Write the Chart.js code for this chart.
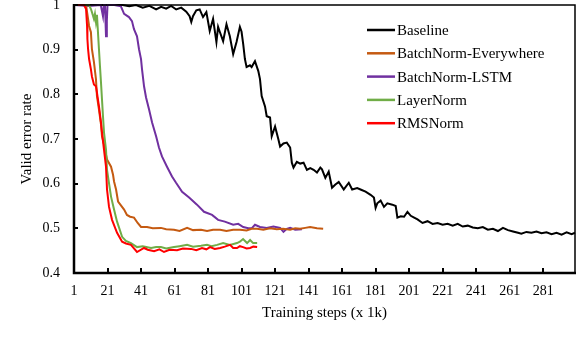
<!DOCTYPE html>
<html>
<head>
<meta charset="utf-8">
<script src="https://cdn.jsdelivr.net/npm/chart.js@4/dist/chart.umd.min.js"></script>
<style>
html,body{margin:0;padding:0;background:#fff;}
#wrap{width:576px;height:356px;}
</style>
</head>
<body>
<div id="wrap"><canvas id="c" width="576" height="356"></canvas></div>
<script>
// ---- data ----
const seriesNames = ["Baseline", "BatchNorm-Everywhere", "BatchNorm-LSTM", "LayerNorm", "RMSNorm"];
const seriesColors = ["#000000", "#C55A11", "#7030A0", "#70AD47", "#FF0000"];
const xTickValues = [1, 21, 41, 61, 81, 101, 121, 141, 161, 181, 201, 221, 241, 261, 281];
const yTickValues = [0.4, 0.5, 0.6, 0.7, 0.8, 0.9, 1.0];
const xTitle = "Training steps (x 1k)";
const yTitle = "Valid error rate";

const baselineSteps = [1,10,20,30,34,38,42,46,50,53,56,59,62,65,68,70,71,72,74,76,78,80,82,84,86,87,88,90,92,94,96,98,100,101,102,103,104,106,107,109,111,112,113,115,116,118,119,121,123,124,126,128,130,131,132,134,136,138,140,142,144,146,148,149,151,153,155,157,159,162,165,167,170,172,175,178,180,181,182,184,186,188,191,193,194,196,198,200,202,204,206,209,212,215,218,221,224,227,230,233,236,239,242,245,248,251,254,257,260,263,266,268,271,274,277,280,283,286,289,292,295,298,300];
const baselineErr = [1.0,1.0,1.0,1.0,0.997,1.0,0.994,0.998,0.99,0.996,0.992,0.998,0.99,0.994,0.985,0.975,0.962,0.975,0.988,0.99,0.973,0.984,0.942,0.969,0.917,0.951,0.94,0.919,0.957,0.93,0.89,0.917,0.951,0.94,0.912,0.879,0.861,0.865,0.861,0.874,0.852,0.834,0.796,0.773,0.751,0.748,0.706,0.728,0.699,0.683,0.69,0.692,0.681,0.647,0.636,0.649,0.645,0.647,0.631,0.635,0.631,0.625,0.636,0.632,0.613,0.627,0.591,0.598,0.604,0.587,0.602,0.587,0.59,0.587,0.582,0.575,0.569,0.546,0.556,0.562,0.548,0.556,0.553,0.55,0.524,0.527,0.526,0.537,0.528,0.524,0.52,0.512,0.516,0.51,0.512,0.508,0.51,0.506,0.51,0.504,0.506,0.502,0.5,0.503,0.497,0.499,0.494,0.501,0.496,0.493,0.49,0.488,0.492,0.49,0.493,0.489,0.491,0.487,0.49,0.486,0.491,0.487,0.49];

const bnEverySteps = [1,5,8.2,8.8,10,11.1,11.7,12.9,14.1,14.7,15.9,17.1,17.7,18.9,20.1,20.7,23.1,24.3,24.9,26.1,27.3,30.9,32.6,34.5,36.8,39,41,44.6,48,52.9,56,60.7,64,68.5,72,76.8,80.4,84,88.2,92,96,100.1,104,107,110.3,114,118,122,125.8,130,133,135.9,139,141.9,146,149.7];
const bnEveryErr = [1.0,1.0,1.0,0.984,0.953,0.939,0.901,0.872,0.834,0.796,0.766,0.733,0.706,0.688,0.665,0.654,0.638,0.62,0.605,0.587,0.56,0.542,0.53,0.526,0.524,0.512,0.503,0.503,0.5,0.501,0.498,0.497,0.494,0.501,0.496,0.497,0.494,0.497,0.497,0.494,0.497,0.497,0.495,0.499,0.499,0.497,0.5,0.498,0.499,0.497,0.5,0.499,0.501,0.503,0.5,0.499];

const bnLstmSteps = [1,10,17,18.3,18.8,19.5,20.1,20.6,21,25,29,30.9,33.8,35.6,36.8,38.6,39.8,41,41.6,42.8,44,45.8,47.6,50,51.7,53.5,56.5,59.5,61.9,65.5,69.7,74.4,78.6,83.4,87,91,96,99,102,105,107.3,109,112,116,120,124,126,128,130,133,137];
const bnLstmErr = [1.0,0.998,1.0,0.975,1.0,1.0,0.93,0.965,1.0,1.0,0.997,0.98,0.973,0.964,0.946,0.93,0.901,0.879,0.856,0.818,0.793,0.766,0.737,0.706,0.681,0.661,0.638,0.616,0.602,0.582,0.569,0.553,0.537,0.53,0.519,0.515,0.508,0.51,0.503,0.5,0.501,0.508,0.503,0.501,0.504,0.501,0.492,0.499,0.501,0.497,0.498];

const layerNormSteps = [1,5,10,11.1,11.7,12.9,13.5,14.1,14.7,15.3,15.9,16.5,17.1,17.7,18.3,18.9,20.1,20.7,23.1,24.9,26.7,29.7,32,35,38.6,42,47,50,52.9,56,60.7,64,68.5,72,76.8,80.4,83,86.4,90,94,98.3,100,101.9,104.3,106.1,107.9,110.3];
const layerNormErr = [1.0,1.0,1.0,0.991,0.984,0.969,0.98,0.962,0.978,0.939,0.901,0.863,0.827,0.789,0.751,0.715,0.676,0.631,0.571,0.542,0.515,0.481,0.472,0.467,0.458,0.46,0.456,0.458,0.458,0.455,0.458,0.46,0.463,0.459,0.461,0.463,0.46,0.463,0.467,0.463,0.467,0.47,0.476,0.467,0.474,0.467,0.467];

const rmsNormSteps = [1,5,7,8.2,8.8,9,9.4,10,11.1,11.7,12.9,14.1,14.7,15.9,17.1,17.7,18.9,20.1,20.7,21.9,23.7,26.7,29.7,32,35,38.6,42.8,45,48.8,52,54.7,58,62.5,66,70.9,74,77.4,80,82.2,85,88.2,91,94.1,96,98.3,100,101.9,104,106.1,108,110.3];
const rmsNormErr = [1.0,1.0,1.0,0.991,0.953,0.924,0.901,0.879,0.856,0.84,0.822,0.818,0.804,0.773,0.737,0.715,0.676,0.638,0.587,0.548,0.519,0.49,0.47,0.466,0.463,0.447,0.456,0.452,0.449,0.453,0.447,0.452,0.451,0.455,0.454,0.451,0.456,0.453,0.458,0.454,0.456,0.459,0.463,0.456,0.456,0.46,0.458,0.455,0.456,0.459,0.458];

const stepLists = [baselineSteps, bnEverySteps, bnLstmSteps, layerNormSteps, rmsNormSteps];
const errLists = [baselineErr, bnEveryErr, bnLstmErr, layerNormErr, rmsNormErr];
const drawOrder = [4, 2, 3, 1, 0];

const FONT = "'Liberation Serif', 'Times New Roman', serif";

const datasets = seriesNames.map((name, i) => ({
  label: name,
  data: stepLists[i].map((s, j) => ({x: s, y: errLists[i][j]})),
  borderColor: seriesColors[i],
  backgroundColor: seriesColors[i],
  borderWidth: 2,
  pointRadius: 0,
  tension: 0,
  fill: false,
  clip: 4,
  order: drawOrder[i]
}));

const framePlugin = {
  id: 'frame',
  afterDatasetsDraw(chart) {
    const {ctx, chartArea: a, scales} = chart;
    ctx.save();
    ctx.strokeStyle = '#000';
    ctx.lineWidth = 1.5;
    ctx.beginPath();
    ctx.moveTo(a.left, a.top); ctx.lineTo(a.right, a.top); ctx.lineTo(a.right, a.bottom);
    ctx.stroke();
    ctx.lineWidth = 2.5;
    ctx.beginPath();
    ctx.moveTo(a.left, a.top - 1); ctx.lineTo(a.left, a.bottom); ctx.lineTo(a.right + 1, a.bottom);
    ctx.stroke();
    // inward tick marks
    ctx.lineWidth = 2;
    ctx.beginPath();
    scales.x.ticks.forEach(t => {
      const px = Math.round(scales.x.getPixelForValue(t.value));
      ctx.moveTo(px, a.bottom); ctx.lineTo(px, a.bottom - 5);
    });
    scales.y.ticks.forEach(t => {
      const py = Math.round(scales.y.getPixelForValue(t.value));
      ctx.moveTo(a.left, py); ctx.lineTo(a.left + 4, py);
    });
    ctx.stroke();
    // legend
    const lx0 = 367, lx1 = 395, ly0 = 30, dy = 23.3;
    ctx.font = "15px " + FONT;
    ctx.textBaseline = 'middle';
    ctx.textAlign = 'left';
    chart.data.datasets.forEach((ds, i) => {
      const y = ly0 + i * dy;
      ctx.strokeStyle = ds.borderColor;
      ctx.lineWidth = 2.5;
      ctx.beginPath(); ctx.moveTo(lx0, y); ctx.lineTo(lx1, y); ctx.stroke();
      ctx.fillStyle = '#000';
      ctx.fillText(ds.label, lx1 + 2, y + 1);
    });
    ctx.restore();
  }
};

new Chart(document.getElementById('c'), {
  type: 'line',
  data: {datasets},
  options: {
    responsive: false,
    animation: false,
    devicePixelRatio: 1,
    layout: {padding: {left: 0, top: 5, right: 1, bottom: 0}},
    plugins: {legend: {display: false}, tooltip: {enabled: false}},
    scales: {
      x: {
        type: 'linear',
        min: 1, max: 300,
        afterFit(s) { s.height = 83; s.paddingLeft = 0; s.paddingRight = 0; s.paddingTop = 0; s.paddingBottom = 0; },
        afterBuildTicks(s) { s.ticks = xTickValues.map(v => ({value: v})); },
        grid: {display: false, drawTicks: false},
        border: {display: false},
        ticks: {color: '#000', font: {family: FONT, size: 14}, padding: 10, maxRotation: 0, autoSkip: false,
                callback: v => String(v)},
        title: {display: true, text: xTitle, color: '#000', font: {family: FONT, size: 15}, padding: {top: 0, bottom: 34}}
      },
      y: {
        type: 'linear',
        min: 0.4, max: 1.0,
        afterFit(s) { s.width = 74; s.paddingLeft = 0; s.paddingRight = 0; s.paddingTop = 0; s.paddingBottom = 0; },
        afterBuildTicks(s) { s.ticks = yTickValues.map(v => ({value: v})); },
        grid: {display: false, drawTicks: false},
        border: {display: false},
        ticks: {color: '#000', font: {family: FONT, size: 14}, padding: 14, autoSkip: false,
                callback: v => (Math.abs(v - 1) < 1e-9 ? "1" : Number(v).toFixed(1))},
        title: {display: true, text: yTitle, color: '#000', font: {family: FONT, size: 15}, padding: {top: 18, bottom: 0}}
      }
    }
  },
  plugins: [framePlugin]
});
</script>
</body>
</html>
